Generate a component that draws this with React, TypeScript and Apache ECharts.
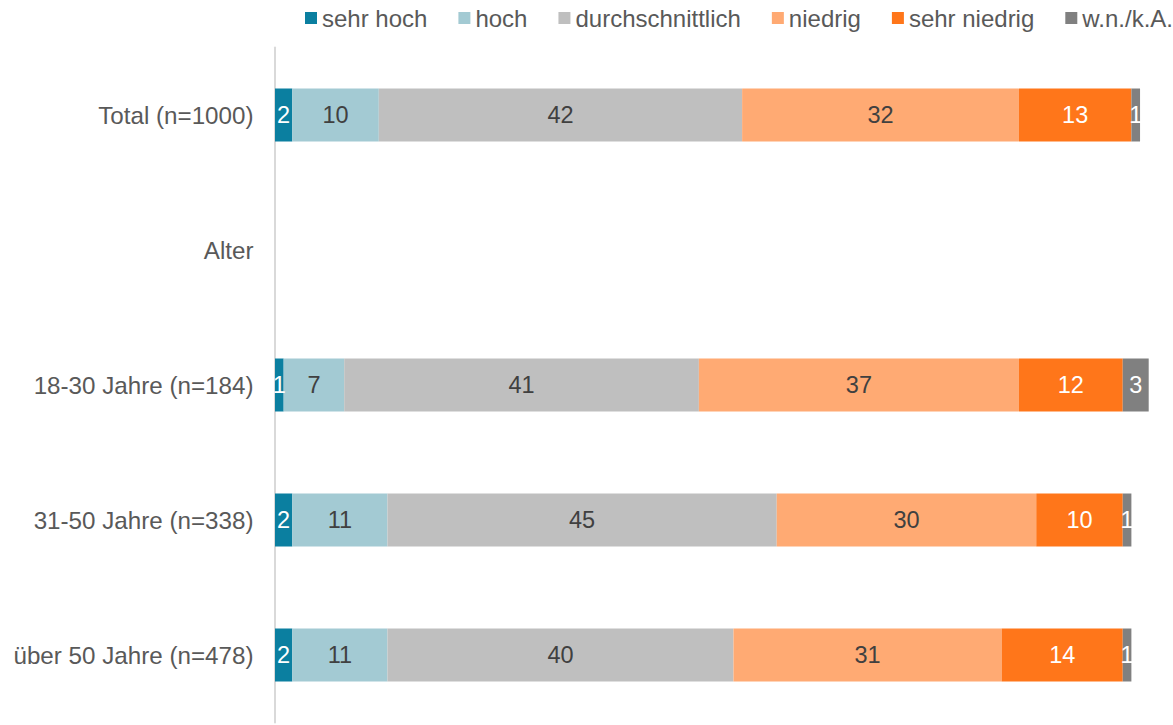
import React, { useEffect, useRef } from "react";
import * as echarts from "echarts";

const categories = [
  "Total (n=1000)",
  "Alter",
  "18-30 Jahre (n=184)",
  "31-50 Jahre (n=338)",
  "über 50 Jahre (n=478)",
];

const seriesNames = ["sehr hoch", "hoch", "durchschnittlich", "niedrig", "sehr niedrig", "w.n./k.A."];

const sehrHoch = [2, null, 1, 2, 2];
const hoch = [10, null, 7, 11, 11];
const durchschnittlich = [42, null, 41, 45, 40];
const niedrig = [32, null, 37, 30, 31];
const sehrNiedrig = [13, null, 12, 10, 14];
const wnka = [1, null, 3, 1, 1];

const seriesValues = [sehrHoch, hoch, durchschnittlich, niedrig, sehrNiedrig, wnka];
const colors = ["#0B7FA0", "#A3CAD3", "#BFBFBF", "#FFAA73", "#FF761A", "#808080"];
const labelColors = ["#FFFFFF", "#404040", "#404040", "#404040", "#FFFFFF", "#FFFFFF"];

export default function App() {
  const ref = useRef<HTMLDivElement>(null);
  useEffect(() => {
    if (!ref.current) return;
    const chart = echarts.init(ref.current, null, { renderer: "svg" });
    const font = "'Liberation Sans', Arial, sans-serif";
    chart.setOption({
      animation: false,
      textStyle: { fontFamily: font },
      legend: {
        left: 300,
        top: 1,
        width: 1000,
        itemWidth: 12,
        itemHeight: 12,
        itemGap: 31,
        icon: "rect",
        textStyle: { fontSize: 24, color: "#595959", fontFamily: font },
        data: seriesNames,
      },
      grid: { left: 275, right: 24.3, top: 47.5, bottom: 2.5, containLabel: false },
      xAxis: {
        type: "value",
        min: 0,
        max: 101,
        show: false,
      },
      yAxis: {
        type: "category",
        inverse: true,
        data: categories,
        offset: 1.5,
        axisLine: { show: true, lineStyle: { color: "#D9D9D9", width: 2 } },
        axisTick: { show: false },
        axisLabel: { margin: 20, fontSize: 24.2, color: "#595959", fontFamily: font },
      },
      series: seriesNames.map((name, i) => ({
        name,
        type: "bar",
        stack: "total",
        barWidth: 53,
        clip: false,
        data: seriesValues[i],
        itemStyle: { color: colors[i] },
        label: {
          show: true,
          position: "inside",
          color: labelColors[i],
          fontSize: 23.5,
          fontFamily: font,
          formatter: (p: any) => (p.value == null ? "" : String(p.value)),
        },
      })),
    });
    return () => chart.dispose();
  }, []);
  return (
    <div
      ref={ref}
      style={{ position: "fixed", left: 0, top: 0, width: 1173, height: 725, background: "#fff" }}
    />
  );
}
